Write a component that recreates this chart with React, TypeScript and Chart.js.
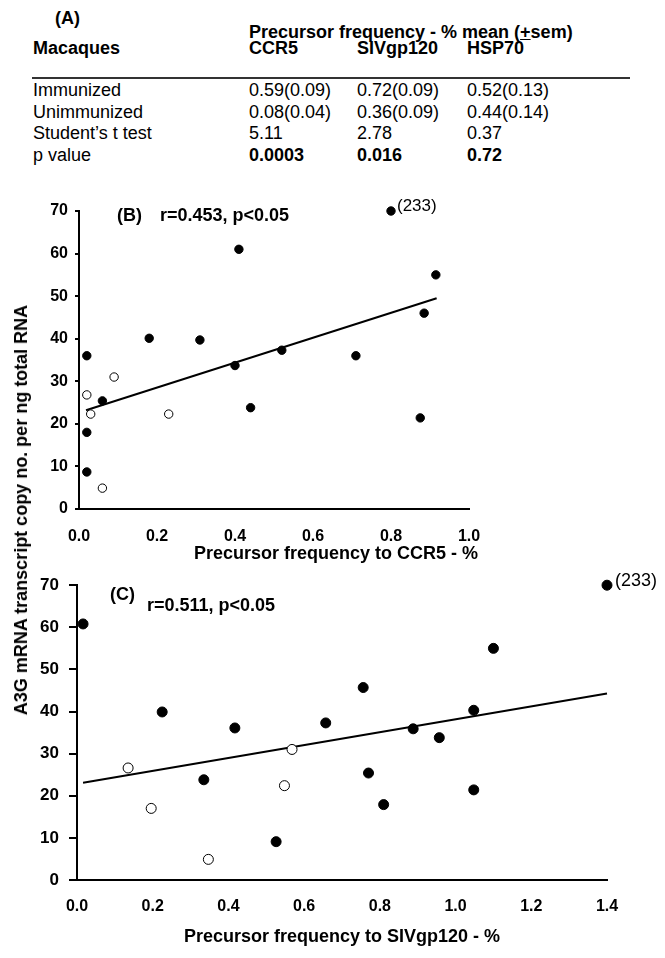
import React, { useEffect, useRef } from "react";
import { Chart, registerables } from "chart.js";

Chart.register(...registerables);

// ---------- Panel A (table) ----------
const tableColumns = ["CCR5", "SIVgp120", "HSP70"];
const tableRowLabels = ["Immunized", "Unimmunized", "Student\u2019s t test", "p value"];
const immunizedValues = ["0.59(0.09)", "0.72(0.09)", "0.52(0.13)"];
const unimmunizedValues = ["0.08(0.04)", "0.36(0.09)", "0.44(0.14)"];
const tTestValues = ["5.11", "2.78", "0.37"];
const pValues = ["0.0003", "0.016", "0.72"];

// ---------- Panel B: CCR5 ----------
const ccr5Immunized = [0.8, 0.41, 0.02, 0.18, 0.31, 0.4, 0.52, 0.915, 0.885, 0.71, 0.06, 0.02, 0.02, 0.44, 0.875];
const a3gImmunizedB = [70, 61, 36, 40.1, 39.7, 33.7, 37.3, 55, 46, 36, 25.4, 18, 8.7, 23.8, 21.4];
const ccr5Unimmunized = [0.02, 0.03, 0.09, 0.06, 0.23];
const a3gUnimmunizedB = [26.8, 22.3, 31, 4.9, 22.3];
const ccr5FitX = [0.018, 0.917];
const ccr5FitY = [23.2, 49.5];
const ccr5Ticks = [0, 0.2, 0.4, 0.6, 0.8, 1.0];

// ---------- Panel C: SIVgp120 ----------
const gp120Immunized = [0.016, 0.225, 0.417, 0.657, 0.335, 0.526, 0.756, 0.77, 0.81, 0.888, 0.957, 1.048, 1.048, 1.1, 1.4];
const a3gImmunizedC = [60.8, 39.9, 36.1, 37.3, 23.8, 9.1, 45.7, 25.4, 17.9, 35.9, 33.8, 40.3, 21.4, 55, 70];
const gp120Unimmunized = [0.135, 0.196, 0.347, 0.548, 0.568];
const a3gUnimmunizedC = [26.6, 17, 4.9, 22.4, 31];
const gp120FitX = [0.016, 1.4];
const gp120FitY = [23.1, 44.3];
const gp120Ticks = [0, 0.2, 0.4, 0.6, 0.8, 1.0, 1.2, 1.4];

const yTicks = [0, 10, 20, 30, 40, 50, 60, 70];
const outlierLabel = "(233)";

const SANS = "'Liberation Sans', Arial, Helvetica, sans-serif";
const NARROW = "'Liberation Sans Narrow', 'Arial Narrow', 'Liberation Sans', Arial, sans-serif";

const toPts = (xs: number[], ys: number[]) => xs.map((x, i) => ({ x, y: ys[i] }));

type TextItem = {
  text: string;
  font: string;
  px?: number;
  py?: number;
  at?: [number, number];
  dx?: number;
  dy?: number;
  align?: CanvasTextAlign;
};

function makeTextPlugin(id: string, items: TextItem[]) {
  return {
    id,
    afterDraw(chart: any) {
      const ctx: CanvasRenderingContext2D = chart.ctx;
      items.forEach((it) => {
        ctx.save();
        ctx.font = it.font;
        ctx.fillStyle = "#000";
        ctx.textBaseline = "middle";
        ctx.textAlign = it.align || "left";
        let x = it.px ?? 0;
        let y = it.py ?? 0;
        if (it.at) {
          x = chart.scales.x.getPixelForValue(it.at[0]) + (it.dx || 0);
          y = chart.scales.y.getPixelForValue(it.at[1]) + (it.dy || 0);
        }
        ctx.fillText(it.text, x, y);
        ctx.restore();
      });
    },
  };
}

function makeDatasets(fx: number[], fy: number[], ox: number[], oy: number[], lx: number[], ly: number[], r: number) {
  return [
    {
      type: "scatter",
      data: toPts(fx, fy),
      backgroundColor: "#000",
      borderColor: "#000",
      borderWidth: 1,
      pointRadius: r,
      pointHoverRadius: r,
      clip: false,
    },
    {
      type: "scatter",
      data: toPts(ox, oy),
      backgroundColor: "#fff",
      borderColor: "#000",
      borderWidth: 1,
      pointRadius: r,
      pointHoverRadius: r,
      clip: false,
    },
    {
      type: "line",
      data: toPts(lx, ly),
      borderColor: "#000",
      borderWidth: 2,
      pointRadius: 0,
      fill: false,
      tension: 0,
      clip: false,
    },
  ];
}

function PanelB() {
  const ref = useRef<HTMLCanvasElement>(null);
  useEffect(() => {
    const texts = makeTextPlugin("panelTextB", [
      { text: "(B)", px: 117, py: 26, font: `bold 18px ${SANS}` },
      { text: "r=0.453, p<0.05", px: 160, py: 26, font: `bold 18px ${SANS}` },
      { text: outlierLabel, at: [ccr5Immunized[0], a3gImmunizedB[0]], dx: 6, dy: -5, font: `17px ${SANS}` },
      { text: "Precursor frequency to CCR5 - %", px: 336, py: 364, align: "center", font: `bold 18px ${SANS}` },
    ]);
    const chart = new Chart(ref.current as HTMLCanvasElement, {
      type: "scatter",
      data: {
        datasets: makeDatasets(ccr5Immunized, a3gImmunizedB, ccr5Unimmunized, a3gUnimmunizedB, ccr5FitX, ccr5FitY, 4.2) as any,
      },
      plugins: [texts as any],
      options: {
        animation: false,
        responsive: false,
        devicePixelRatio: 1,
        layout: { padding: { left: 0, top: 21, right: 31, bottom: 0 } },
        plugins: {
          legend: { display: false },
          tooltip: { enabled: false },
        },
        scales: {
          x: {
            type: "linear",
            min: 0,
            max: 1.0,
            afterBuildTicks: (s: any) => { s.ticks = ccr5Ticks.map((v) => ({ value: v })); },
            ticks: {
              callback: (v: any) => Number(v).toFixed(1),
              font: { family: NARROW, weight: "bold", size: 16 },
              color: "#000",
              padding: 18,
              maxRotation: 0,
            },
            grid: { display: true, drawOnChartArea: false, drawTicks: false },
            border: { display: true, color: "#000", width: 2 },
            afterFit: (s: any) => { s.height = 61; },
          },
          y: {
            type: "linear",
            min: 0,
            max: 70,
            afterBuildTicks: (s: any) => { s.ticks = yTicks.map((v) => ({ value: v })); },
            ticks: {
              font: { family: NARROW, weight: "bold", size: 16 },
              color: "#000",
              padding: 7,
            },
            grid: { display: true, drawOnChartArea: false, drawTicks: true, tickLength: 4, color: "#000", lineWidth: 2 },
            border: { display: true, color: "#000", width: 2 },
            afterFit: (s: any) => { s.width = 79; },
          },
        },
      } as any,
    });
    return () => chart.destroy();
  }, []);
  return <canvas ref={ref} width={500} height={380} style={{ position: "absolute", left: 0, top: 190 }} />;
}

function PanelC() {
  const ref = useRef<HTMLCanvasElement>(null);
  useEffect(() => {
    const texts = makeTextPlugin("panelTextC", [
      { text: "(C)", px: 110, py: 30, font: `bold 18px ${SANS}` },
      { text: "r=0.511, p<0.05", px: 147, py: 41, font: `bold 18px ${SANS}` },
      { text: outlierLabel, at: [gp120Immunized[14], a3gImmunizedC[14]], dx: 8, dy: -4, font: `18px ${SANS}` },
    ]);
    const chart = new Chart(ref.current as HTMLCanvasElement, {
      type: "scatter",
      data: {
        datasets: makeDatasets(gp120Immunized, a3gImmunizedC, gp120Unimmunized, a3gUnimmunizedC, gp120FitX, gp120FitY, 5) as any,
      },
      plugins: [texts as any],
      options: {
        animation: false,
        responsive: false,
        devicePixelRatio: 1,
        layout: { padding: { left: 0, top: 15, right: 58, bottom: 0 } },
        plugins: {
          legend: { display: false },
          tooltip: { enabled: false },
        },
        scales: {
          x: {
            type: "linear",
            min: 0,
            max: 1.4,
            afterBuildTicks: (s: any) => { s.ticks = gp120Ticks.map((v) => ({ value: v })); },
            ticks: {
              callback: (v: any) => Number(v).toFixed(1),
              font: { family: SANS, weight: "bold", size: 16 },
              color: "#000",
              padding: 17,
              maxRotation: 0,
            },
            title: {
              display: true,
              text: "Precursor frequency to SIVgp120 - %",
              color: "#000",
              font: { family: SANS, weight: "bold", size: 18 },
              padding: { top: 0, bottom: 10 },
            },
            grid: { display: true, drawOnChartArea: false, drawTicks: false },
            border: { display: true, color: "#000", width: 2 },
            afterFit: (s: any) => { s.height = 78; },
          },
          y: {
            type: "linear",
            min: 0,
            max: 70,
            afterBuildTicks: (s: any) => { s.ticks = yTicks.map((v) => ({ value: v })); },
            ticks: {
              font: { family: SANS, weight: "bold", size: 17 },
              color: "#000",
              padding: 10,
            },
            grid: { display: true, drawOnChartArea: false, drawTicks: true, tickLength: 8, color: "#000", lineWidth: 2 },
            border: { display: true, color: "#000", width: 2 },
            afterFit: (s: any) => { s.width = 77; },
          },
        },
      } as any,
    });
    return () => chart.destroy();
  }, []);
  return <canvas ref={ref} width={665} height={393} style={{ position: "absolute", left: 0, top: 565 }} />;
}

const txt = (left: number, cy: number, bold = false): React.CSSProperties => ({
  position: "absolute",
  left,
  top: cy - 11,
  lineHeight: "22px",
  fontSize: 18,
  fontFamily: SANS,
  fontWeight: bold ? "bold" : "normal",
  whiteSpace: "nowrap",
  color: "#000",
});

function TableA() {
  const colX = [249, 357, 467];
  const rowY = [90, 111.5, 133, 154.5];
  const rows = [immunizedValues, unimmunizedValues, tTestValues, pValues];
  return (
    <>
      <div style={txt(55, 18, true)}>(A)</div>
      <div style={txt(249, 32, true)}>
        Precursor frequency - % mean (<span style={{ textDecoration: "underline" }}>+</span>sem)
      </div>
      <div style={txt(33, 48, true)}>Macaques</div>
      {tableColumns.map((c, i) => (
        <div key={c} style={txt(colX[i], 48, true)}>{c}</div>
      ))}
      <div style={{ position: "absolute", left: 32, top: 77, width: 598, height: 2, background: "#333" }} />
      {tableRowLabels.map((r, i) => (
        <React.Fragment key={r}>
          <div style={txt(33, rowY[i])}>{r}</div>
          {rows[i].map((v, j) => (
            <div key={j} style={txt(colX[j], rowY[i], i === 3)}>{v}</div>
          ))}
        </React.Fragment>
      ))}
    </>
  );
}

export default function App() {
  return (
    <div style={{ position: "absolute", left: 0, top: 0, width: 665, height: 958, background: "#fff", overflow: "hidden" }}>
      <TableA />
      <PanelB />
      <PanelC />
      <div
        style={{
          position: "absolute",
          left: 21,
          top: 510,
          transform: "translate(-50%, -50%) rotate(-90deg)",
          fontFamily: SANS,
          fontWeight: "bold",
          fontSize: 18,
          whiteSpace: "nowrap",
          lineHeight: "22px",
          color: "#000",
        }}
      >
        A3G mRNA transcript copy no. per ng total RNA
      </div>
    </div>
  );
}
